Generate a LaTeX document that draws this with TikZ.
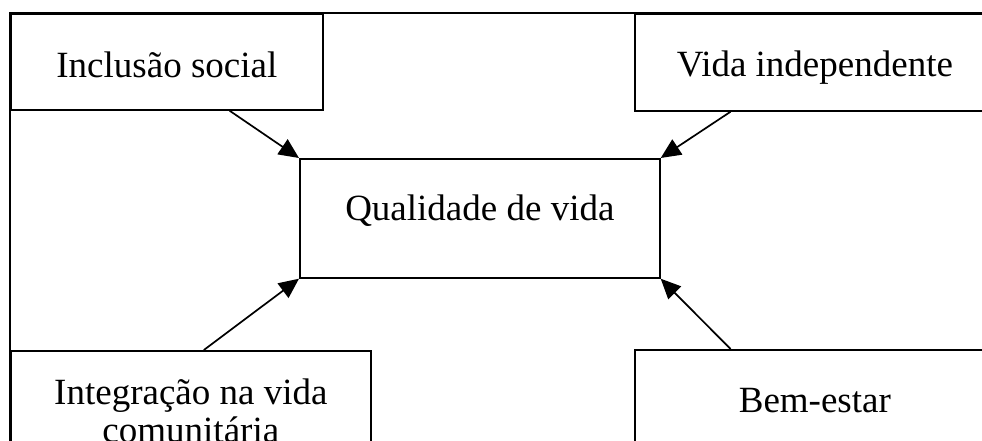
\documentclass[tikz,border=0pt]{standalone}
\usepackage{fontspec}
\setmainfont{Liberation Serif}
\usetikzlibrary{arrows.meta,calc}

\begin{document}
\begin{tikzpicture}[x=1pt,y=-1pt,line width=1.7pt]

\tikzset{caixa/.style={draw, rectangle, anchor=north west, inner sep=0pt,
  minimum width=360pt, text depth=0pt, align=center,
  font=\fontsize{37}{38}\selectfont}}

% Moldura
\useasboundingbox (0,0) rectangle (982,441);
\clip (0,0) rectangle (982,441);
\draw (10,13) rectangle (994,480);

% Caixa central
\node[caixa, minimum height=119pt, text height=5pt] (qv) at (299,158) {Qualidade de vida};

% Caixas de cima
\node[caixa, minimum width=312pt, minimum height=96pt, text height=32pt] (inc) at (10,13) {Inclusão social};
\node[caixa, minimum height=97pt, text height=29pt] (vi) at (634,13) {Vida independente};

% Caixas de baixo
\node[caixa, minimum height=120pt, text height=64pt] (int) at (10,350) {Integração na vida\\comunitária};
\node[caixa, minimum height=120pt, text height=6pt] (be) at (634,349) {Bem-estar};

% Setas
\draw [->,>={Triangle[length=20pt,width=18pt]}] ($(inc.south west)!0.7!(inc.south east)$) -- (qv.north west);
\draw [->,>={Triangle[length=20pt,width=18pt]}] ($(vi.south west)!0.267!(vi.south east)$) -- (qv.north east);
\draw [->,>={Triangle[length=20pt,width=18pt]}] ($(int.north west)!0.536!(int.north east)$) -- (qv.south west);
\draw [->,>={Triangle[length=20pt,width=18pt]}] ($(be.north west)!0.267!(be.north east)$) -- (qv.south east);

\end{tikzpicture}
\end{document}
